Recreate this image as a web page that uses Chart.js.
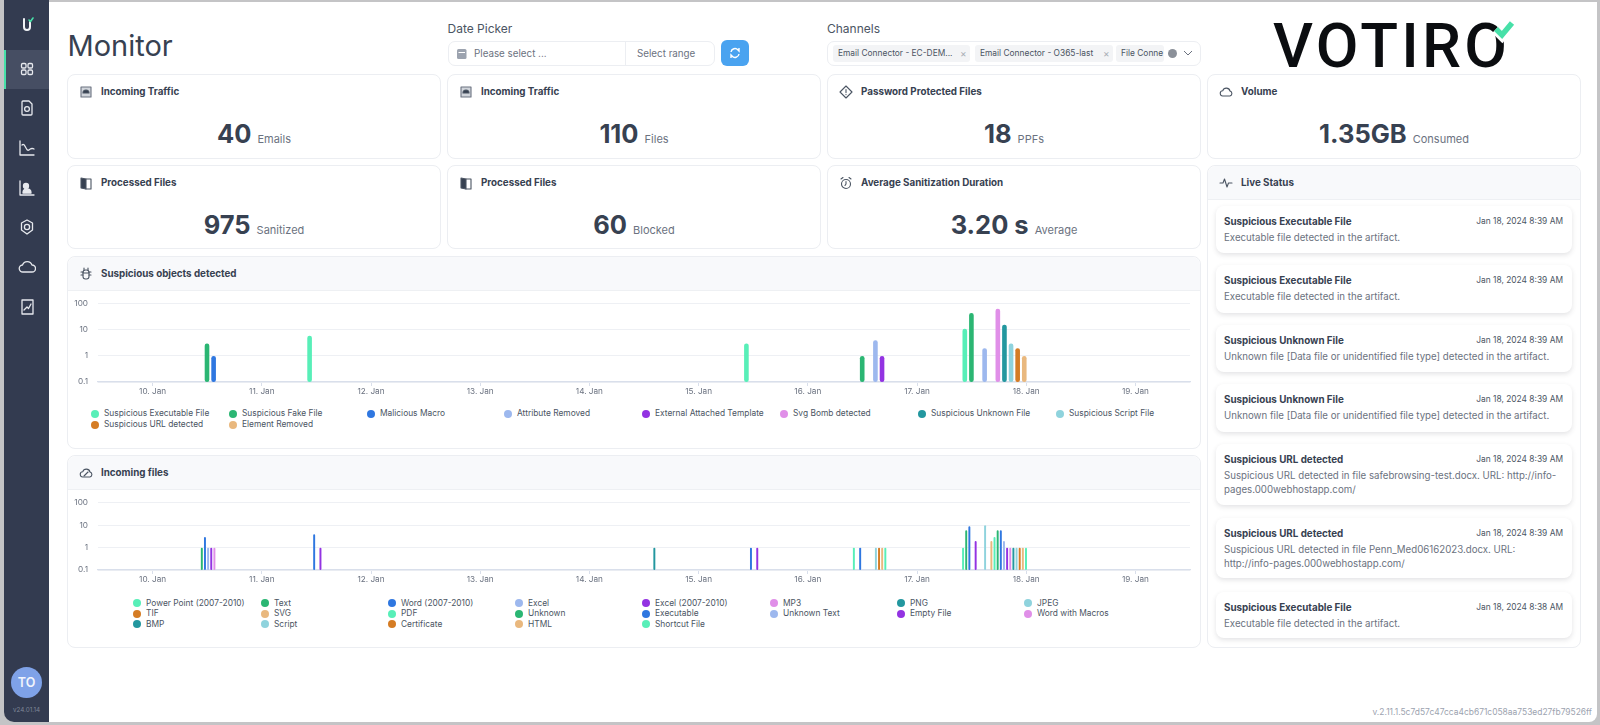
<!DOCTYPE html>
<html><head><meta charset="utf-8">
<script src="https://cdn.jsdelivr.net/npm/chart.js@4"></script>
<style>
*{box-sizing:border-box}
html,body{margin:0;padding:0;width:1600px;height:725px;overflow:hidden;background:#c4c4c6;font-family:Inter,sans-serif;color:#374151}
.abs,.card,.chartcard,.item{position:absolute}
#main{position:absolute;left:49px;top:2px;width:1548px;height:720px;background:#fff;border-bottom-right-radius:8px}
#side{position:absolute;left:4px;top:0;width:45px;height:722px;background:#333b50;border-bottom-left-radius:10px}
#active{position:absolute;left:4px;top:50px;width:45px;height:39px;background:#464e63;border-left:2px solid #47e0a8}
.ic{position:absolute;left:18px;width:18px;height:18px;fill:none;stroke:#e7e9ee;stroke-width:1.3;stroke-linecap:round;stroke-linejoin:round}
#avatar{position:absolute;left:11px;top:667px;width:31px;height:31px;border-radius:50%;background:#7fa2e8;color:#f2f5fc;font-weight:600;font-size:12.5px;text-align:center;line-height:31px}
#ver{position:absolute;left:0;top:706px;width:53px;text-align:center;font-size:6.3px;color:#7e8697}
h1{position:absolute;left:67.5px;top:27px;margin:0;font-weight:400;font-size:29px;line-height:38px;color:#374151}
.lab{position:absolute;font-size:12px;color:#4b5563;line-height:14px}
.box{position:absolute;border:1px solid #eceef2;border-radius:7px;background:#fff;font-size:10.2px;color:#6b7280}
.chip{position:absolute;top:45px;height:17px;background:#f3f4f6;border-radius:3px;font-size:8.4px;line-height:17px;padding-left:5px;color:#4b5563;white-space:nowrap}
.card,.chartcard{border:1px solid #eceef2;border-radius:8px;background:#fff}
.ttl{position:absolute;left:33px;font-size:9.8px;font-weight:700;color:#374151;line-height:14px;white-space:nowrap}
.cic{position:absolute;left:11px;width:14px;height:14px;fill:none;stroke:#4b5563;stroke-width:1.1;stroke-linecap:round;stroke-linejoin:round}
.met{position:absolute;left:0;right:0;display:flex;justify-content:center;align-items:baseline;gap:6px}
.met b{font-size:25.5px;line-height:30px;font-weight:700;color:#374151}
.met span{font-size:11px;color:#6b7280}
.hdr{position:absolute;left:0;right:0;top:0;height:34px;background:#f8f9fb;border-bottom:1px solid #eef0f3;border-radius:8px 8px 0 0}
.item{left:8px;width:356px;background:#fff;border-radius:8px;box-shadow:0 2px 5px rgba(60,60,70,.14)}
.item b{position:absolute;left:8px;top:9px;font-size:9.8px;font-weight:700;line-height:13px;color:#374151;white-space:nowrap}
.item i{position:absolute;right:9px;top:9px;font-style:normal;font-size:8.4px;line-height:13px;color:#4b5563}
.item p{position:absolute;left:8px;top:24.5px;margin:0;font-size:9.7px;line-height:14.2px;color:#6b7280;white-space:nowrap}
canvas{position:absolute;display:block}
.lg{position:absolute;font-size:8.4px;line-height:11px;color:#4b5563;white-space:nowrap}
.lg s{position:absolute;left:-13px;top:1.5px;width:8px;height:8px;border-radius:50%;text-decoration:none}
#vers{position:absolute;right:8px;top:706px;font-size:8.45px;line-height:12px;color:#9ca3af}
</style></head>
<body>
<div id="main"></div>
<div id="side"></div><div id="active"></div>
<svg class="ic" style="top:15px" viewBox="0 0 18 18"><path d="M6 4v8a3 3 0 0 0 6 0V7" stroke-width="2" stroke="#f1f3f6"/><path d="M11 5l1.5 1.5L15 3" stroke="#47e0a8" stroke-width="1.6"/></svg>
<svg class="ic" style="top:60px" viewBox="0 0 18 18"><rect x="3.5" y="3.5" width="4.5" height="4.5" rx="1.2"/><rect x="10" y="3.5" width="4.5" height="4.5" rx="1.2"/><rect x="3.5" y="10" width="4.5" height="4.5" rx="1.2"/><rect x="10" y="10" width="4.5" height="4.5" rx="1.2"/></svg>
<svg class="ic" style="top:99px" viewBox="0 0 18 18"><path d="M5 2h6l3 3v10a1 1 0 0 1-1 1H5a1 1 0 0 1-1-1V3a1 1 0 0 1 1-1z"/><circle cx="9" cy="10" r="2.4"/></svg>
<svg class="ic" style="top:139px" viewBox="0 0 18 18"><path d="M2 2v14h14M4 6c3-3 4 7 7 5s2-2 5-1"/></svg>
<svg class="ic" style="top:179px" viewBox="0 0 18 18"><path d="M2 2v14h14"/><circle cx="8" cy="7" r="2.5" fill="#e7e9ee"/><path d="M5 14c0-3 2-4 4-4s4 1 4 4z" fill="#e7e9ee"/></svg>
<svg class="ic" style="top:218px" viewBox="0 0 18 18"><path d="M9 2l5.5 3v7L9 16l-5.5-4V5z"/><circle cx="9" cy="9" r="2.6"/></svg>
<svg class="ic" style="top:258px" viewBox="0 0 18 18"><path d="M5 14a3.5 3.5 0 0 1-.5-7A5 5 0 0 1 14 7a3.5 3.5 0 0 1 0 7z"/></svg>
<svg class="ic" style="top:298px" viewBox="0 0 18 18"><rect x="4" y="2" width="11" height="14"/><path d="M6 12l3-3 1.5 1.5L13 6"/></svg>
<div id="avatar">TO</div><div id="ver">v24.01.14</div>

<h1>Monitor</h1>
<div class="lab" style="left:447.5px;top:22px">Date Picker</div>
<div class="box" style="left:447.5px;top:41px;width:267.5px;height:25px"></div>
<div class="abs" style="left:625px;top:41px;width:1px;height:25px;background:#eceef2"></div>
<svg class="abs" style="left:456px;top:47px" width="12" height="13" viewBox="0 0 12 13"><rect x="1" y="2" width="9.5" height="10" rx="1.5" fill="#9ca3af"/><rect x="2.5" y="5" width="6.5" height="1" fill="#fff"/></svg>
<div class="abs" style="left:474px;top:46.5px;font-size:9.8px;line-height:14px;color:#6b7280">Please select ...</div>
<div class="abs" style="left:637px;top:46.5px;font-size:9.8px;line-height:14px;color:#6b7280">Select range</div>
<div class="abs" style="left:721px;top:40px;width:28px;height:26px;border-radius:6px;background:#4aa3f0"></div>
<svg class="abs" style="left:728px;top:46px" width="14" height="14" viewBox="0 0 14 14" fill="none" stroke="#fff" stroke-width="1.4"><path d="M3 6a4 4 0 0 1 7-2l1 1V2M11 8a4 4 0 0 1-7 2l-1-1v3"/></svg>

<div class="lab" style="left:827px;top:22px">Channels</div>
<div class="box" style="left:827px;top:41px;width:374px;height:25px"></div>
<div class="chip" style="left:833px;width:137px">Email Connector - EC-DEM...</div>
<div class="abs" style="left:960px;top:46px;font-size:10px;line-height:14px;color:#a8adb5">×</div>
<div class="chip" style="left:975px;width:138px">Email Connector - O365-last</div>
<div class="abs" style="left:1103px;top:46px;font-size:10px;line-height:14px;color:#a8adb5">×</div>
<div class="chip" style="left:1116px;width:48px">File Conne</div>
<div class="abs" style="left:1168px;top:49px;width:9px;height:9px;border-radius:50%;background:#8b9099"></div>
<svg class="abs" style="left:1183px;top:49px" width="10" height="8" viewBox="0 0 10 8" fill="none" stroke="#6b7280"><path d="M1 2l4 4 4-4"/></svg>

<svg class="abs" style="left:1255px;top:2px;overflow:visible" width="275" height="85" viewBox="0 0 275 85">
<text x="18" y="65" font-family="Roboto" font-weight="500" font-size="62" textLength="234" lengthAdjust="spacing" fill="#0b0d10">VOTIRO</text>
<path d="M241 27l6 6 10-12" fill="none" stroke="#fff" stroke-width="11"/>
<path d="M241 27l6 6 10-12" fill="none" stroke="#47e0a8" stroke-width="5.5"/></svg>

<div id="cards"></div>

<div class="chartcard" style="left:67px;top:256px;width:1134px;height:193px"><div class="hdr"></div>
<svg class="cic" style="top:10px" viewBox="0 0 14 14"><rect x="4" y="3" width="6" height="9" rx="2.5"/><path d="M2 5h2M10 5h2M2 8h2M10 8h2M5 3V1M9 3V1M4 6h6"/></svg>
<div class="ttl" style="top:10px">Suspicious objects detected</div></div>
<div class="chartcard" style="left:67px;top:455px;width:1134px;height:193px"><div class="hdr"></div>
<svg class="cic" style="top:10px" viewBox="0 0 14 14"><path d="M4 11a2.6 2.6 0 0 1-.3-5.2A3.8 3.8 0 0 1 11 6a2.6 2.6 0 0 1 0 5z"/><path d="M5 10l4-4"/></svg>
<div class="ttl" style="top:10px">Incoming files</div></div>

<canvas id="c1" style="left:67px;top:288.5px" width="1133" height="113"></canvas>
<canvas id="c2" style="left:67px;top:488px" width="1133" height="102"></canvas>
<div id="lg1"></div><div id="lg2"></div>

<div id="vers">v.2.11.1.5c7d57c47cca4cb671c058aa753ed27fb79526ff</div>

<script>
// ---------- chart data ----------
const objectBins = [10.71, 11.71, 15.71, 16.71, 17.71];
const tickDays = [10,11,12,13,14,15,16,17,18,19];
const yTickValues = [0.1, 1, 10, 100];
const objectSeries = ["Suspicious Executable File","Suspicious Fake File","Malicious Macro","Attribute Removed","External Attached Template","Svg Bomb detected","Suspicious Unknown File","Suspicious Script File","Suspicious URL detected","Element Removed"];
const suspiciousExecutable = [null, 6, 3, null, 11];
const suspiciousFake       = [3, null, null, 1, 45];
const maliciousMacro       = [1, null, null, null, null];
const attributeRemoved     = [null, null, null, 4, 2];
const externalTemplate     = [null, null, null, 1, null];
const svgBomb              = [null, null, null, null, 65];
const suspiciousUnknown    = [null, null, null, null, 16];
const suspiciousScript     = [null, null, null, null, 3];
const suspiciousUrl        = [null, null, null, null, 2];
const elementRemoved       = [null, null, null, null, 1];
const objectValues = [suspiciousExecutable, suspiciousFake, maliciousMacro, attributeRemoved, externalTemplate, svgBomb, suspiciousUnknown, suspiciousScript, suspiciousUrl, elementRemoved];

const fileBins = [10.71, 11.71, 14.71, 15.71, 16.71, 17.71];
const fileSeries = ["Power Point (2007-2010)","Text","Word (2007-2010)","Excel","Excel (2007-2010)","MP3","PNG","JPEG","TIF","SVG","PDF","Unknown","Executable","Unknown Text","Empty File","Word with Macros","BMP","Script","Certificate","HTML","Shortcut File"];
const powerPoint = [null, null, null, null, 1, 1];
const textFiles  = [1, null, null, null, null, 6];
const word2007   = [3, 4, null, 1, 1, 9];
const excel      = [1, null, null, null, null, null];
const excel2007  = [1, 1, null, 1, null, 2];
const mp3        = [1, null, null, null, null, null];
const png        = [null, null, 1, null, null, null];
const jpeg       = [null, null, null, null, 1, 10];
const tif        = [null, null, null, null, 1, null];
const svgFiles   = [null, null, null, null, 1, 2];
const pdf        = [null, null, null, null, 1, 3];
const unknownF   = [null, null, null, null, null, 6];
const executable = [null, null, null, null, null, 6];
const unknownTxt = [null, null, null, null, null, 2];
const emptyFile  = [null, null, null, null, null, 1];
const wordMacros = [null, null, null, null, null, 1];
const bmp        = [null, null, null, null, null, 1];
const scriptF    = [null, null, null, null, null, 1];
const certificate= [null, null, null, null, null, 1];
const html       = [null, null, null, null, null, 1];
const shortcut   = [null, null, null, null, null, 1];
const fileValues = [powerPoint, textFiles, word2007, excel, excel2007, mp3, png, jpeg, tif, svgFiles, pdf, unknownF, executable, unknownTxt, emptyFile, wordMacros, bmp, scriptF, certificate, html, shortcut];

const palette = ["#58efb8","#2bb673","#2f77e0","#9db8ee","#9333e2","#e08fe8","#23979f","#8fd3dd","#d57c24","#e9b87e"];

// ---------- page content ----------
const cards = [
 [67,74,374,85,"Incoming Traffic","40","Emails","inbox"],
 [447,74,374,85,"Incoming Traffic","110","Files","inbox"],
 [827,74,374,85,"Password Protected Files","18","PPFs","warn"],
 [1207,74,374,85,"Volume","1.35GB","Consumed","cloud"],
 [67,165,374,84,"Processed Files","975","Sanitized","book"],
 [447,165,374,84,"Processed Files","60","Blocked","book"],
 [827,165,374,84,"Average Sanitization Duration","3.20 s","Average","clock"]
];
const icons = {
 inbox:'<rect x="2" y="2" width="10" height="10" fill="#d1d5db" stroke="#6b7280"/><path d="M4 8a3 3 0 0 1 6 0z" fill="#374151"/>',
 warn:'<path d="M7 1l6 6-6 6-6-6z"/><path d="M7 4.5v3M7 9.4v.2"/>',
 cloud:'<path d="M4 11a2.6 2.6 0 0 1-.3-5.2A3.8 3.8 0 0 1 11 6a2.6 2.6 0 0 1 0 5z"/>',
 book:'<path d="M7 3L2 2v10l5 1z" fill="#374151"/><path d="M7 3h5v10H7"/>',
 clock:'<circle cx="7" cy="8" r="4.5"/><path d="M7 5.5V8l-1 1.5M2 3l2-1.5M12 3l-2-1.5"/>'
};
let h = '';
for (const [x,y,w,ht,t,v,u,ic] of cards) {
  h += `<div class="card" style="left:${x}px;top:${y}px;width:${w}px;height:${ht}px">
  <svg class="cic" style="top:10px" viewBox="0 0 14 14">${icons[ic]}</svg>
  <div class="ttl" style="top:9.5px">${t}</div>
  <div class="met" style="top:43.5px"><b>${v}</b><span>${u}</span></div></div>`;
}
const feed = [
 [206,47,"Suspicious Executable File","Jan 18, 2024 8:39 AM","Executable file detected in the artifact."],
 [265,48,"Suspicious Executable File","Jan 18, 2024 8:39 AM","Executable file detected in the artifact."],
 [325,47,"Suspicious Unknown File","Jan 18, 2024 8:39 AM","Unknown file [Data file or unidentified file type] detected in the artifact."],
 [384,48,"Suspicious Unknown File","Jan 18, 2024 8:39 AM","Unknown file [Data file or unidentified file type] detected in the artifact."],
 [444,61,"Suspicious URL detected","Jan 18, 2024 8:39 AM","Suspicious URL detected in file safebrowsing-test.docx. URL: http://info-<br>pages.000webhostapp.com/"],
 [518,60,"Suspicious URL detected","Jan 18, 2024 8:39 AM","Suspicious URL detected in file Penn_Med06162023.docx. URL:<br>http://info-pages.000webhostapp.com/"],
 [592,46,"Suspicious Executable File","Jan 18, 2024 8:38 AM","Executable file detected in the artifact."]
];
h += `<div class="card" style="left:1207px;top:165px;width:374px;height:483px"><div class="hdr"></div>
 <svg class="cic" style="top:10px" viewBox="0 0 14 14"><path d="M1 7h3l1.5-4 2.5 8 1.5-4H13"/></svg>
 <div class="ttl" style="top:10px">Live Status</div>`;
for (const [y,ht,t,d,m] of feed) {
  h += `<div class="item" style="top:${y-166}px;height:${ht}px"><b>${t}</b><i>${d}</i><p>${m}</p></div>`;
}
h += '</div>';
document.getElementById('cards').innerHTML = h;

function legend(el, names, colXs, rowYs, cols) {
  el.innerHTML = names.map((n,i)=>{
    const c = colXs[i % cols], r = rowYs[Math.floor(i / cols)];
    return `<div class="lg" style="left:${c+9}px;top:${r-5.5}px"><s style="background:${palette[i%palette.length]}"></s>${n}</div>`;
  }).join('');
}
legend(document.getElementById('lg1'), objectSeries, [95,233,371,508,646,784,922,1060], [413.7,424.5], 8);
legend(document.getElementById('lg2'), fileSeries, [137,265,392,519,646,774,901,1028], [603,613.7,624.3], 8);

// ---------- charts ----------
function makeChart(id, bins, names, values, padTop) {
  new Chart(document.getElementById(id), {
    type: 'bar',
    data: {
      datasets: names.map((n,i)=>({
        label: n,
        backgroundColor: palette[i % palette.length],
        data: bins.map((b,j)=>({x:b, y:values[i][j]}))
      }))
    },
    options: {
      responsive:false, animation:false,
      layout:{padding:{top:padTop,right:10}},
      plugins:{legend:{display:false},tooltip:{enabled:false}},
      categoryPercentage:0.605,
      barPercentage: id==='c1' ? 0.7 : 0.62,
      elements:{bar:{borderRadius: id==='c1' ? 2.2 : 1, borderSkipped:false}},
      scales:{
        x:{type:'linear',bounds:'data',min:9.5,max:19.5,offset:false,
           afterFit(s){s.height=20},
           afterBuildTicks(s){s.ticks=tickDays.map(v=>({value:v}))},
           grid:{offset:false,drawOnChartArea:false,drawTicks:true,tickLength:4,color:'#d9dfeb'},
           border:{color:'#d9dfeb',width:1.2},
           ticks:{autoSkip:false,maxRotation:0,padding:1,color:'#6b7280',font:{family:'Inter',size:8.2},callback:v=>v+'. Jan'}},
        y:{type:'logarithmic',min:0.1,max:100,
           afterFit(s){s.width=31},
           afterBuildTicks(s){s.ticks=yTickValues.map(v=>({value:v}))},
           grid:{drawTicks:false,color:'#eef0f4'},
           border:{display:false},
           ticks:{autoSkip:false,padding:10,color:'#6b7280',font:{family:'Inter',size:8.2},callback:v=>String(v)}}
      }
    }
  });
}
makeChart('c1', objectBins, objectSeries, objectValues, 2);
makeChart('c2', fileBins, fileSeries, fileValues, 2);
</script>
</body></html>
